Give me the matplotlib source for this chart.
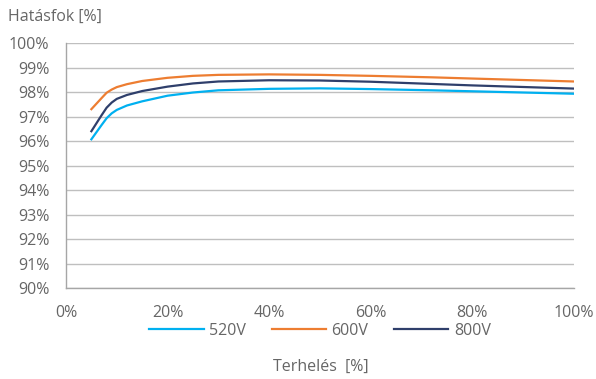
import numpy as np
import matplotlib
matplotlib.use("Agg")
from matplotlib import pyplot as plt
from matplotlib.ticker import FuncFormatter

plt.rcParams['font.family'] = ['Open Sans', 'DejaVu Sans']

# terhelés [%] es hatásfok [%]
load = [5, 7, 8, 9, 10, 12, 15, 20, 25, 30, 40, 50, 60, 72, 80, 100]
eff_520 = [96.07, 96.65, 96.93, 97.13, 97.27, 97.45, 97.62, 97.85, 97.98, 98.07, 98.13, 98.15, 98.12, 98.07, 98.03, 97.93]
eff_600 = [97.3, 97.75, 97.97, 98.1, 98.2, 98.32, 98.45, 98.58, 98.66, 98.7, 98.72, 98.7, 98.66, 98.6, 98.55, 98.43]
eff_800 = [96.4, 97.05, 97.36, 97.57, 97.72, 97.88, 98.04, 98.22, 98.35, 98.43, 98.48, 98.47, 98.42, 98.33, 98.27, 98.14]

series = [("520V", eff_520, "#00B0F0"),
          ("600V", eff_600, "#ED7D31"),
          ("800V", eff_800, "#2F3F6B")]

txt = "#666666"
fs = 11.5

fig = plt.figure(figsize=(5.96, 3.79), dpi=100)
ax = fig.add_axes([0.1107, 0.240, 0.8523, 0.6465])

for name, vals, col in series:
    ax.plot(load, vals, color=col, lw=1.6, label=name)

ax.set_xlim(0, 100)
ax.set_ylim(90, 100)
ax.set_xticks(np.arange(0, 101, 20))
ax.set_yticks(np.arange(90, 101, 1))
ax.xaxis.set_major_formatter(FuncFormatter(lambda v, p: "%d%%" % v))
ax.yaxis.set_major_formatter(FuncFormatter(lambda v, p: "%d%%" % v))
ax.grid(axis="y", color="#BFBFBF", lw=1.0)
ax.set_axisbelow(True)
for s in ["top", "right"]:
    ax.spines[s].set_visible(False)
for s in ["left", "bottom"]:
    ax.spines[s].set_color("#A6A6A6")
    ax.spines[s].set_linewidth(1.0)
ax.tick_params(length=0, colors=txt, labelsize=fs)
ax.tick_params(axis="x", pad=12)
ax.tick_params(axis="y", pad=12)

fig.text(8 / 596, 1 - 17 / 379, "Hatásfok [%]", color=txt, fontsize=fs, va="center")
fig.text(321 / 596, 1 - 367 / 379, "Terhelés  [%]", color=txt, fontsize=fs, va="center", ha="center")

ax.legend(loc="center", bbox_to_anchor=(320 / 596, 1 - 331 / 379), bbox_transform=fig.transFigure,
          ncol=3, frameon=False, fontsize=fs, labelcolor=txt, handlelength=3.4,
          columnspacing=1.6, handletextpad=0.35, borderpad=0, borderaxespad=0)

fig.savefig("out.png", dpi=100)
